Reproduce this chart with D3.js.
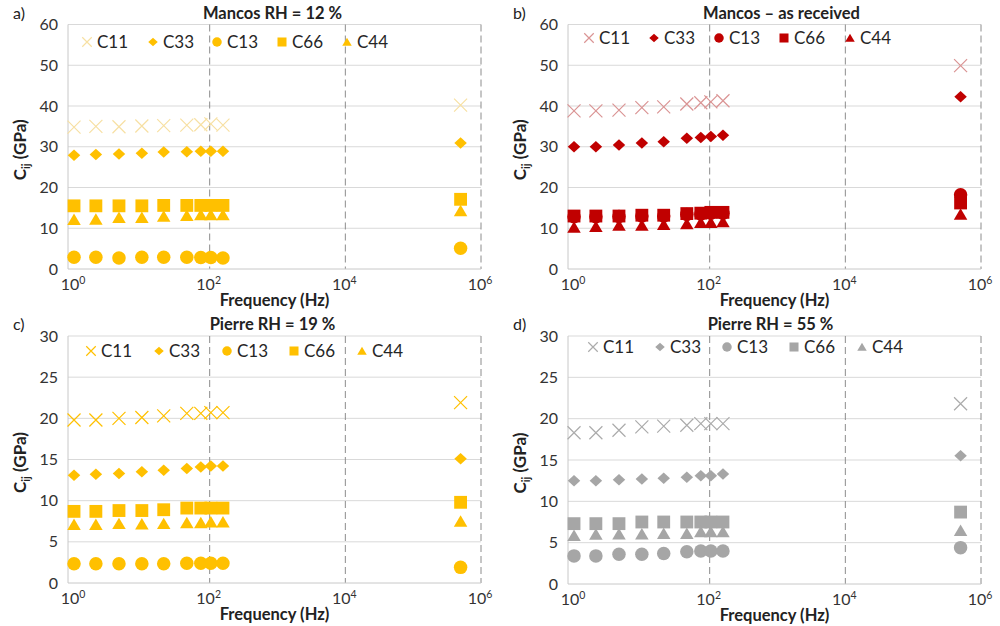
<!DOCTYPE html>
<html>
<head>
<meta charset="utf-8">
<script src="https://cdn.jsdelivr.net/npm/d3@7"></script>
<style>
  html, body { margin: 0; padding: 0; background: #fff; }
  svg text { font-family: Lato, "Open Sans", "Liberation Sans", sans-serif; }
</style>
</head>
<body>
<svg id="chart" width="1000" height="626"></svg>
<script>
// Measurement frequencies (Hz): low-frequency forced oscillation + one ultrasonic point
const frequencies = [1, 2.1, 4.6, 10, 21, 46, 74, 104, 157, 5e5];
const seriesNames = ["C11", "C33", "C13", "C66", "C44"];
const xTickExponents = [0, 2, 4, 6];
const yTicksMancos = [0, 10, 20, 30, 40, 50, 60];
const yTicksPierre = [0, 5, 10, 15, 20, 25, 30];

// a) Mancos, RH = 12 %
const mancos12_C11 = [34.8, 35.0, 34.9, 35.1, 35.2, 35.3, 35.4, 35.6, 35.3, 40.2];
const mancos12_C33 = [27.9, 28.1, 28.2, 28.4, 28.7, 28.8, 28.9, 28.9, 28.9, 30.9];
const mancos12_C13 = [2.9, 2.9, 2.7, 2.9, 2.9, 2.9, 2.8, 2.8, 2.7, 5.1];
const mancos12_C66 = [15.5, 15.5, 15.5, 15.5, 15.6, 15.6, 15.6, 15.6, 15.6, 17.1];
const mancos12_C44 = [12.1, 12.2, 12.6, 12.6, 12.9, 13.1, 13.3, 13.3, 13.3, 14.3];

// b) Mancos, as received
const mancosAR_C11 = [38.8, 38.8, 39.0, 39.6, 39.8, 40.5, 40.8, 41.0, 41.3, 49.9];
const mancosAR_C33 = [30.0, 30.0, 30.4, 30.9, 31.2, 32.1, 32.3, 32.5, 32.8, 42.3];
const mancosAR_C13 = [12.8, 12.8, 12.9, 13.0, 13.0, 13.4, 13.5, 13.7, 13.7, 18.2];
const mancosAR_C66 = [13.0, 13.0, 13.0, 13.2, 13.2, 13.6, 13.7, 13.9, 13.9, 16.2];
const mancosAR_C44 = [10.2, 10.4, 10.7, 10.7, 10.9, 11.1, 11.4, 11.4, 11.6, 13.4];

// c) Pierre, RH = 19 %
const pierre19_C11 = [19.8, 19.8, 20.0, 20.1, 20.3, 20.6, 20.6, 20.7, 20.7, 21.9];
const pierre19_C33 = [13.1, 13.2, 13.3, 13.5, 13.7, 13.9, 14.1, 14.2, 14.2, 15.1];
const pierre19_C13 = [2.35, 2.35, 2.35, 2.35, 2.35, 2.4, 2.4, 2.4, 2.4, 1.9];
const pierre19_C66 = [8.7, 8.7, 8.8, 8.8, 8.9, 9.1, 9.1, 9.1, 9.1, 9.8];
const pierre19_C44 = [7.1, 7.1, 7.2, 7.15, 7.2, 7.3, 7.3, 7.4, 7.4, 7.5];

// d) Pierre, RH = 55 %
const pierre55_C11 = [18.3, 18.3, 18.6, 19.0, 19.1, 19.2, 19.4, 19.4, 19.4, 21.8];
const pierre55_C33 = [12.5, 12.5, 12.6, 12.7, 12.8, 12.9, 13.1, 13.1, 13.3, 15.5];
const pierre55_C13 = [3.4, 3.4, 3.6, 3.6, 3.7, 3.9, 4.0, 4.0, 4.0, 4.4];
const pierre55_C66 = [7.3, 7.3, 7.3, 7.5, 7.5, 7.5, 7.5, 7.5, 7.5, 8.7];
const pierre55_C44 = [5.85, 6.0, 6.05, 6.05, 6.1, 6.1, 6.3, 6.3, 6.3, 6.45];

const panels = [
  { tag: "a)", title: "Mancos RH = 12 %", left: 68, top: 24.5, bottom: 269, titleDx: -2, legendDy: 17.5,
    legendX: [19, 85, 149, 214, 279], yMax: 60, yTicks: yTicksMancos,
    color: "#FFC000", lightColor: "#F7E0A3",
    series: [mancos12_C11, mancos12_C33, mancos12_C13, mancos12_C66, mancos12_C44] },
  { tag: "b)", title: "Mancos \u2013 as received", left: 568, top: 24.5, bottom: 269, titleDx: 7, legendDy: 13.5,
    legendX: [21, 86, 151, 216, 282], yMax: 60, yTicks: yTicksMancos,
    color: "#C00000", lightColor: "#DA9494",
    series: [mancosAR_C11, mancosAR_C33, mancosAR_C13, mancosAR_C66, mancosAR_C44] },
  { tag: "c)", title: "Pierre RH = 19 %", left: 68, top: 336, bottom: 583, titleDx: -2, legendDy: 15,
    legendX: [23, 91, 159, 226, 294], yMax: 30, yTicks: yTicksPierre,
    color: "#FFC000", lightColor: "#FFC000",
    series: [pierre19_C11, pierre19_C33, pierre19_C13, pierre19_C66, pierre19_C44] },
  { tag: "d)", title: "Pierre RH = 55 %", left: 568, top: 336, bottom: 584, titleDx: -4, legendDy: 11,
    legendX: [25, 92, 159, 226, 294], yMax: 30, yTicks: yTicksPierre,
    color: "#A6A6A6", lightColor: "#ABABAB",
    series: [pierre55_C11, pierre55_C33, pierre55_C13, pierre55_C66, pierre55_C44] }
];

const PLOT_W = 413;
const svg = d3.select("#chart");

// Marker path builders, centred on (cx, cy) with overall size s
function markerPath(kind, cx, cy, s) {
  const h = s / 2;
  switch (kind) {
    case "C11": return `M${cx - h},${cy - h}L${cx + h},${cy + h}M${cx - h},${cy + h}L${cx + h},${cy - h}`;
    case "C33": return `M${cx},${cy - h * 0.92}L${cx + h},${cy}L${cx},${cy + h * 0.92}L${cx - h},${cy}Z`;
    case "C13": return `M${cx - h},${cy}A${h},${h} 0 1,0 ${cx + h},${cy}A${h},${h} 0 1,0 ${cx - h},${cy}Z`;
    case "C66": return `M${cx - h * 0.95},${cy - h * 0.95}h${s * 0.95}v${s * 0.95}h${-s * 0.95}Z`;
    case "C44": return `M${cx},${cy - h * 0.9}L${cx + h},${cy + h * 0.8}L${cx - h},${cy + h * 0.8}Z`;
  }
}

function styleMarker(sel, kind, p) {
  if (kind === "C11") {
    sel.attr("fill", "none").attr("stroke", p.lightColor).attr("stroke-width", 1.2);
  } else {
    sel.attr("fill", p.color).attr("stroke", "none");
  }
}

panels.forEach(p => {
  const x = d3.scaleLog().domain([0.815, 1e6]).range([p.left, p.left + PLOT_W]);
  const y = d3.scaleLinear().domain([0, p.yMax]).range([p.bottom, p.top]);
  const g = svg.append("g");

  // horizontal gridlines
  g.append("g").selectAll("line").data(p.yTicks.filter(t => t > 0)).join("line")
    .attr("x1", p.left).attr("x2", p.left + PLOT_W)
    .attr("y1", d => y(d)).attr("y2", d => y(d))
    .attr("stroke", "#D9D9D9").attr("stroke-width", 1);

  // dashed vertical gridlines at decades
  g.append("g").selectAll("line").data(xTickExponents.filter(e => e > 0)).join("line")
    .attr("x1", d => x(Math.pow(10, d))).attr("x2", d => x(Math.pow(10, d)))
    .attr("y1", p.top).attr("y2", p.bottom)
    .attr("stroke", "#8C8C8C").attr("stroke-width", 1).attr("stroke-dasharray", "7,4");

  // axis lines
  g.append("line").attr("x1", p.left).attr("x2", p.left).attr("y1", p.top).attr("y2", p.bottom)
    .attr("stroke", "#C8C8C8");
  g.append("line").attr("x1", p.left).attr("x2", p.left + PLOT_W).attr("y1", p.bottom).attr("y2", p.bottom)
    .attr("stroke", "#C8C8C8");

  // y tick labels
  g.append("g").selectAll("text").data(p.yTicks).join("text")
    .attr("x", p.left - 10).attr("y", d => y(d) + 5.5)
    .attr("text-anchor", "end").attr("font-size", 16).attr("fill", "#333")
    .text(d => d);

  // x tick labels 10^n
  const xt = g.append("g").selectAll("text").data(xTickExponents).join("text")
    .attr("x", d => x(Math.pow(10, d)) - 1).attr("y", p.bottom + 21)
    .attr("text-anchor", "middle").attr("font-size", 16).attr("fill", "#333");
  xt.append("tspan").text("10");
  xt.append("tspan").attr("font-size", 10.5).attr("dy", -6).text(d => d);

  // axis titles
  g.append("text").attr("x", p.left + PLOT_W / 2).attr("y", p.bottom + 37)
    .attr("text-anchor", "middle").attr("font-size", 16.5).attr("font-weight", "bold").attr("fill", "#222")
    .text("Frequency (Hz)");
  const yt = g.append("text")
    .attr("transform", `translate(${p.left - 42},${(p.top + p.bottom) / 2 + 3}) rotate(-90)`)
    .attr("text-anchor", "middle").attr("font-size", 17).attr("font-weight", "bold").attr("fill", "#222");
  yt.append("tspan").text("C");
  yt.append("tspan").attr("font-size", 11).attr("dy", 4).text("ij");
  yt.append("tspan").attr("dy", -4).text(" (GPa)");

  // title and panel tag
  g.append("text").attr("x", p.left + PLOT_W / 2 + p.titleDx).attr("y", p.top - 6)
    .attr("text-anchor", "middle").attr("font-size", 16.5).attr("font-weight", "bold").attr("fill", "#222")
    .text(p.title);
  g.append("text").attr("x", p.left - 55).attr("y", p.top - 6)
    .attr("font-size", 16).attr("fill", "#222").text(p.tag);

  // data markers, one group per series
  seriesNames.forEach((name, si) => {
    const pts = p.series[si].map((v, i) => ({ f: frequencies[i], v }));
    const sz = name === "C11" ? 13 : (name === "C33" ? 12.5 : 13.5);
    g.append("g").selectAll("path").data(pts).join("path")
      .attr("d", d => markerPath(name, x(d.f), y(d.v), sz))
      .call(sel => styleMarker(sel, name, p));
  });

  // legend
  const ly = p.top + p.legendDy;
  seriesNames.forEach((name, si) => {
    const lx = p.left + p.legendX[si];
    g.append("path").attr("d", markerPath(name, lx, ly, 9.5))
      .call(sel => styleMarker(sel, name, p));
    g.append("text").attr("x", lx + 10).attr("y", ly + 6)
      .attr("font-size", 17).attr("fill", "#262626").text(name);
  });
});
</script>
</body>
</html>
